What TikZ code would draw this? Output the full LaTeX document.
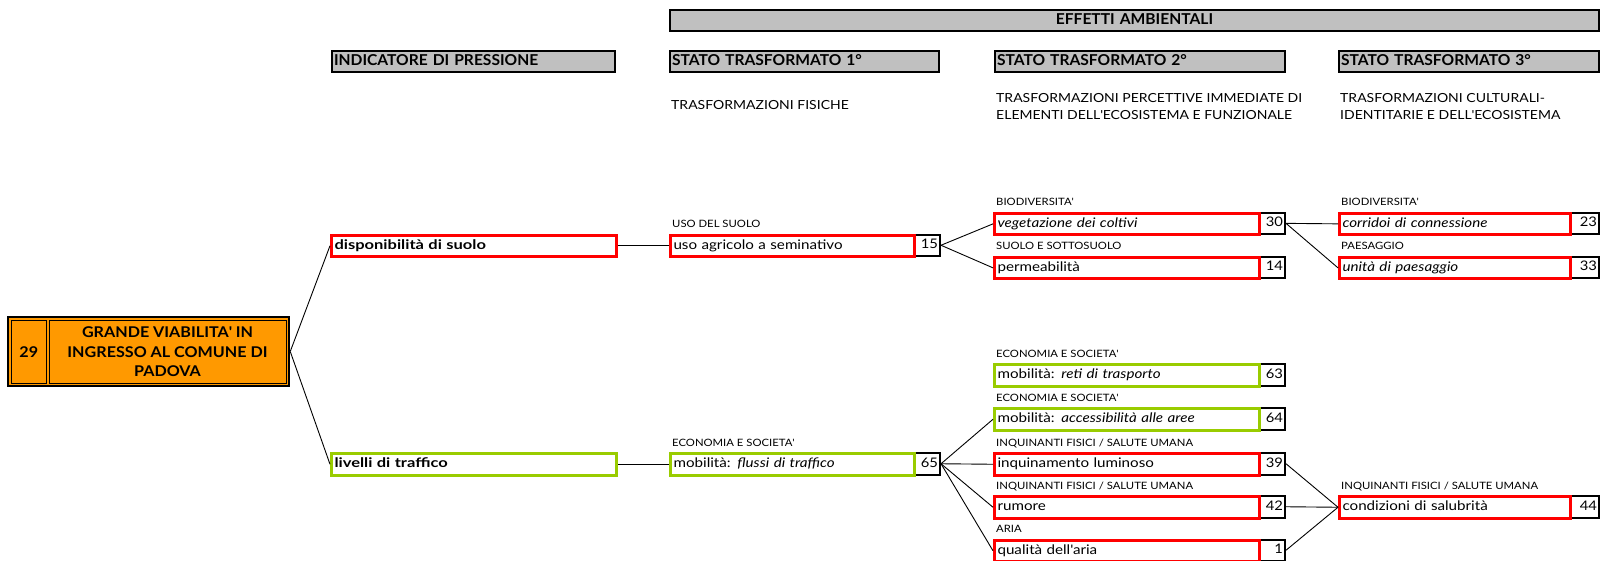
\documentclass[tikz,border=0pt]{standalone}
\usepackage{fontspec}
\setmainfont{Lato}
\newfontfamily\fwide{Lato}[FakeStretch=1.15]
\newfontfamily\flbl{Lato}[FakeStretch=1.12]
\newfontfamily\fwideb{Lato}[FakeStretch=1.25]
\newfontfamily\fmid{Lato}[FakeStretch=1.12]
\newfontfamily\fhdr{Lato}[FakeStretch=1.04]
\newfontfamily\ftitle{Lato}[FakeStretch=1.09]
\definecolor{boxred}{HTML}{FF0000}
\definecolor{boxgreen}{HTML}{99CC00}
\definecolor{hdrgray}{HTML}{C0C0C0}
\definecolor{mainorange}{HTML}{FF9900}
\newcommand\myapos{\textquotesingle}
\begin{document}
\begin{tikzpicture}[x=1pt,y=-1pt,
  boxtxt/.style={font=\fwide\fontsize{13.2}{15}\selectfont},
  effbox/.style={boxtxt, anchor=north west, inner ysep=0, inner xsep=3, minimum height=21.5, text height=9.5, text depth=3, align=left},
  redbox/.style={effbox, draw=boxred, line width=3},
  greenbox/.style={effbox, draw=boxgreen, line width=3},
  boldtxt/.style={font=\fwideb\fontsize{13.2}{15}\bfseries\selectfont},
  numbox/.style={font=\fmid\fontsize{13.2}{15}\selectfont, anchor=north west, draw=black, line width=2, inner ysep=0, inner xsep=2, minimum height=21.5, text height=9.5, text depth=3, align=right},
  lbl/.style={font=\flbl\fontsize{10.1}{11}\selectfont, anchor=base west, inner sep=0},
  hdr/.style={font=\fhdr\fontsize{15}{16}\bfseries\selectfont, anchor=north west, draw=black, line width=2, fill=hdrgray, inner ysep=0, inner xsep=2, minimum height=21, text height=10.5, text depth=3, align=left},
  sub/.style={font=\fmid\fontsize{12.5}{17.5}\selectfont, anchor=north west, inner sep=0, align=left},
  conn/.style={draw=black, line width=0.9}
]
\useasboundingbox (0,0) rectangle (1603,560);

% ---- headers
\node[hdr, minimum width=929, text width=925, align=center] (effetti) at (669,9) {EFFETTI AMBIENTALI};
\node[hdr, text width=279] (hind) at (331,50) {INDICATORE DI PRESSIONE};
\node[hdr, text width=265] (hs1) at (669,50) {STATO TRASFORMATO 1°};
\node[hdr, text width=286] (hs2) at (994,50) {STATO TRASFORMATO 2°};
\node[hdr, text width=256] (hs3) at (1338,50) {STATO TRASFORMATO 3°};

\node[sub] (sub1) at (671,100) {TRASFORMAZIONI FISICHE};
\node[sub] (sub2) at (996,93) {TRASFORMAZIONI PERCETTIVE IMMEDIATE DI\\ELEMENTI DELL\myapos ECOSISTEMA E FUNZIONALE};
\node[sub] (sub3) at (1340,93) {TRASFORMAZIONI CULTURALI-\\IDENTITARIE E DELL\myapos ECOSISTEMA};

% ---- main orange box
\node[draw=black, line width=2.5, fill=mainorange, minimum width=281, minimum height=69, inner sep=0] (main) at (148.5,351.5) {};
\draw[line width=1] (11.5,320) rectangle (46,383);
\draw[line width=1] (49,320) rectangle (286,383);
\node[font=\ftitle\fontsize{14.8}{16}\bfseries\selectfont] (mnum) at (28.75,352) {29};
\node[font=\ftitle\fontsize{14.8}{19.5}\bfseries\selectfont, align=center] (mtitle) at (167.5,352) {GRANDE VIABILITA\myapos\ IN\\INGRESSO AL COMUNE DI\\PADOVA};

% ---- column 1
\node[redbox, boldtxt, text width=279] (disp) at (330,233.5) {disponibilità di suolo};
\node[greenbox, boldtxt, text width=279] (liv) at (330,452) {livelli di traffico};

% ---- column 2
\node[lbl] (l15) at (672,227.5) {USO DEL SUOLO};
\node[numbox, text width=22] (n15) at (913,233.5) {15};
\node[redbox, text width=238] (uso) at (669,233.5) {uso agricolo a seminativo};

\node[lbl] (l65) at (672,446) {ECONOMIA E SOCIETA\myapos};
\node[numbox, text width=22] (n65) at (913,452) {65};
\node[greenbox, text width=238] (flussi) at (669,452) {mobilità: \textit{flussi di traffico}};

% ---- column 3
\node[lbl] (l30) at (996,205.6) {BIODIVERSITA\myapos};
\node[numbox, text width=22] (n30) at (1258,211.6) {30};
\node[redbox, text width=259] (veg) at (993,211.6) {\textit{vegetazione dei coltivi}};

\node[lbl] (l14) at (996,249.6) {SUOLO E SOTTOSUOLO};
\node[numbox, text width=22] (n14) at (1258,255.6) {14};
\node[redbox, text width=259] (perm) at (993,255.6) {permeabilità};

\node[lbl] (l63) at (996,357) {ECONOMIA E SOCIETA\myapos};
\node[numbox, text width=22] (n63) at (1258,363) {63};
\node[greenbox, text width=259] (reti) at (993,363) {mobilità: \textit{reti di trasporto}};

\node[lbl] (l64) at (996,401) {ECONOMIA E SOCIETA\myapos};
\node[numbox, text width=22] (n64) at (1258,407) {64};
\node[greenbox, text width=259] (acc) at (993,407) {mobilità: \textit{accessibilità alle aree}};

\node[lbl] (l39) at (996,446) {INQUINANTI FISICI / SALUTE UMANA};
\node[numbox, text width=22] (n39) at (1258,452) {39};
\node[redbox, text width=259] (inq) at (993,452) {inquinamento luminoso};

\node[lbl] (l42) at (996,489) {INQUINANTI FISICI / SALUTE UMANA};
\node[numbox, text width=22] (n42) at (1258,495) {42};
\node[redbox, text width=259] (rum) at (993,495) {rumore};

\node[lbl] (l1) at (996,532.5) {ARIA};
\node[numbox, text width=22] (n1) at (1258,538.5) {1};
\node[redbox, text width=259] (qual) at (993,538.5) {qualità dell\myapos aria};

% ---- column 4
\node[lbl] (l23) at (1341,205.6) {BIODIVERSITA\myapos};
\node[numbox, text width=25] (n23) at (1569,211.6) {23};
\node[redbox, text width=225] (corr) at (1338,211.6) {\textit{corridoi di connessione}};

\node[lbl] (l33) at (1341,249.6) {PAESAGGIO};
\node[numbox, text width=25] (n33) at (1569,255.6) {33};
\node[redbox, text width=225] (unita) at (1338,255.6) {\textit{unità di paesaggio}};

\node[lbl] (l44) at (1341,489) {INQUINANTI FISICI / SALUTE UMANA};
\node[numbox, text width=25] (n44) at (1569,495) {44};
\node[redbox, text width=225] (cond) at (1338,495) {condizioni di salubrità};

% ---- connectors
\draw[conn] (main.east) -- (disp.west);
\draw[conn] (main.east) -- (liv.west);
\draw[conn] (disp.east) -- (uso.west);
\draw[conn] (liv.east) -- (flussi.west);
\draw[conn] (n15.east) -- (veg.west);
\draw[conn] (n15.east) -- (perm.west);
\draw[conn] (n30.east) -- (corr.west);
\draw[conn] (n30.east) -- (unita.west);
\draw[conn] (n65.east) -- (acc.west);
\draw[conn] (n65.east) -- (inq.west);
\draw[conn] (n65.east) -- (rum.west);
\draw[conn] (n65.east) -- (qual.west);
\draw[conn] (n39.east) -- (cond.west);
\draw[conn] (n42.east) -- (cond.west);
\draw[conn] (n1.east) -- (cond.west);
\end{tikzpicture}
\end{document}
